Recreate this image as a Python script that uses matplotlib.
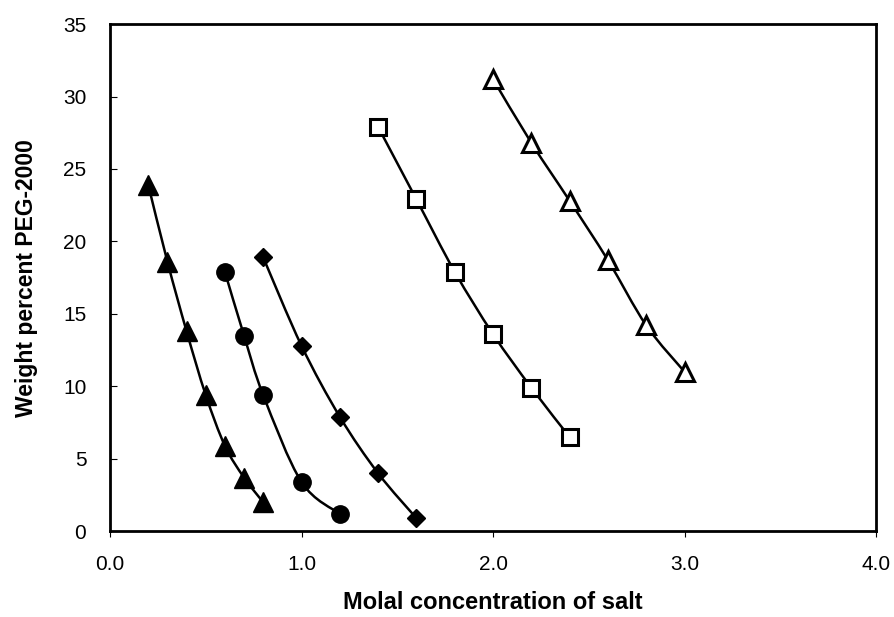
import numpy as np
import matplotlib
matplotlib.use("Agg")
import matplotlib.pyplot as plt
from matplotlib.path import Path
from matplotlib.patches import PathPatch

plt.rcParams['font.family'] = ['Liberation Sans', 'DejaVu Sans']

# tie lines / binodal data
tri_x = [0.2, 0.3, 0.4, 0.5, 0.6, 0.7, 0.8]
tri_y = [23.9, 18.6, 13.8, 9.4, 5.9, 3.7, 2.0]

circ_x = [0.6, 0.7, 0.8, 1.0, 1.2]
circ_y = [17.9, 13.5, 9.4, 3.4, 1.2]

diam_x = [0.8, 1.0, 1.2, 1.4, 1.6]
diam_y = [18.9, 12.8, 7.9, 4.0, 0.9]

sq_x = [1.4, 1.6, 1.8, 2.0, 2.2, 2.4]
sq_y = [27.9, 22.9, 17.9, 13.6, 9.9, 6.5]

otri_x = [2.0, 2.2, 2.4, 2.6, 2.8, 3.0]
otri_y = [31.2, 26.8, 22.8, 18.7, 14.2, 11.0]


def smooth_path(xs, ys, t=1.0 / 6):
    """Excel-like smoothed line as cubic Bezier path (Catmull-Rom control points)"""
    p = np.column_stack([xs, ys]).astype(float)
    verts = [p[0]]
    codes = [Path.MOVETO]
    n = len(p)
    for i in range(n - 1):
        p0 = p[i - 1] if i > 0 else p[i]
        p3 = p[i + 2] if i + 2 < n else p[i + 1]
        c1 = p[i] + (p[i + 1] - p0) * t
        c2 = p[i + 1] - (p3 - p[i]) * t
        verts += [c1, c2, p[i + 1]]
        codes += [Path.CURVE4] * 3
    return Path(verts, codes)


fig = plt.figure(figsize=(8.94, 6.17), dpi=100)
ax = fig.add_axes([0.123, 0.139, 0.857, 0.822])

series = [
    (tri_x, tri_y, dict(marker='^', ms=14, mfc='black', mec='black')),
    (circ_x, circ_y, dict(marker='o', ms=12.5, mfc='black', mec='black')),
    (diam_x, diam_y, dict(marker='D', ms=9.5, mfc='black', mec='black')),
    (sq_x, sq_y, dict(marker='s', ms=11, mfc='white', mec='black', mew=2.2)),
    (otri_x, otri_y, dict(marker='^', ms=13, mfc='white', mec='black', mew=2.2)),
]

for xs, ys, style in series:
    ax.add_patch(PathPatch(smooth_path(xs, ys), fill=False, lw=1.8,
                           edgecolor='black', zorder=2))
    ax.plot(xs, ys, ls='none', zorder=3, **style)

ax.set_xlim(0, 4)
ax.set_ylim(0, 35)
ax.set_xticks([0, 1, 2, 3, 4])
ax.set_xticklabels(['0.0', '1.0', '2.0', '3.0', '4.0'])
ax.set_yticks(range(0, 36, 5))

ax.tick_params(axis='y', direction='in', length=5, width=0.8, labelsize=15, pad=17)
ax.tick_params(axis='x', direction='out', length=4, width=0.8, labelsize=15, pad=13)
for s in ax.spines.values():
    s.set_linewidth(2)

ax.set_xlabel('Molal concentration of salt', fontsize=17, fontweight='bold', labelpad=12)
ax.set_ylabel('Weight percent PEG-2000', fontsize=16.5, fontweight='bold', labelpad=18)

plt.savefig('out.png', dpi=100)
